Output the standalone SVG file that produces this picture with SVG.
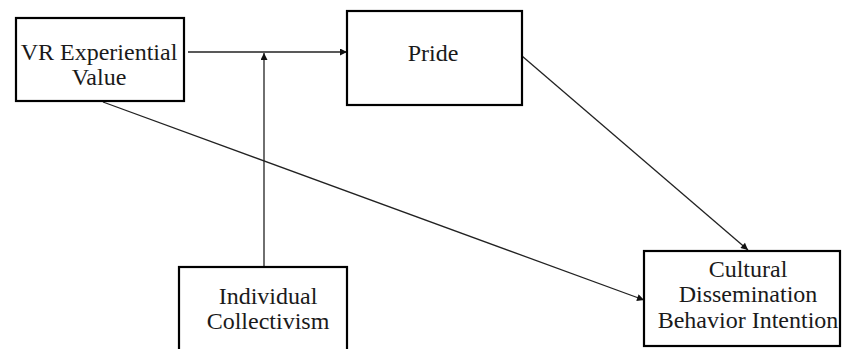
<svg xmlns="http://www.w3.org/2000/svg" width="842" height="349" viewBox="0 0 842 349">
<style>
.box{fill:#fff;stroke:#000;stroke-width:2.2}
.lbl{font-family:"Liberation Serif","Times New Roman",serif;font-size:24px;fill:#1a1a1a;text-anchor:middle}
.edge{stroke:#222;stroke-width:1.3;fill:none;marker-end:url(#ah)}
</style>
<defs>
<marker id="ah" viewBox="0 0 10 10" refX="10" refY="5" markerWidth="9" markerHeight="7" markerUnits="userSpaceOnUse" orient="auto">
<path d="M0,0 L10,5 L0,10 z" fill="#111"/>
</marker>
</defs>
<rect width="842" height="349" fill="#fff"/>
<g id="connectors">
<line class="edge" x1="188" y1="52" x2="347" y2="52"/>
<line class="edge" x1="264" y1="267" x2="264" y2="53"/>
<line class="edge" x1="522" y1="56" x2="748" y2="250"/>
<line class="edge" x1="103" y1="102" x2="644" y2="300"/>
</g>
<g id="vr">
<rect class="box" x="16" y="18" width="168" height="83"/>
<text class="lbl" x="99" y="60">VR Experiential</text>
<text class="lbl" x="99" y="85">Value</text>
</g>
<g id="pride">
<rect class="box" x="347" y="11" width="175" height="94"/>
<text class="lbl" x="433" y="61">Pride</text>
</g>
<g id="individual">
<rect class="box" x="179" y="267" width="168" height="90"/>
<text class="lbl" x="268" y="304">Individual</text>
<text class="lbl" x="268" y="329">Collectivism</text>
</g>
<g id="cultural">
<rect class="box" x="644" y="251" width="196" height="95"/>
<text class="lbl" x="748" y="277">Cultural</text>
<text class="lbl" x="748" y="302">Dissemination</text>
<text class="lbl" x="748" y="328">Behavior Intention</text>
</g>
</svg>
